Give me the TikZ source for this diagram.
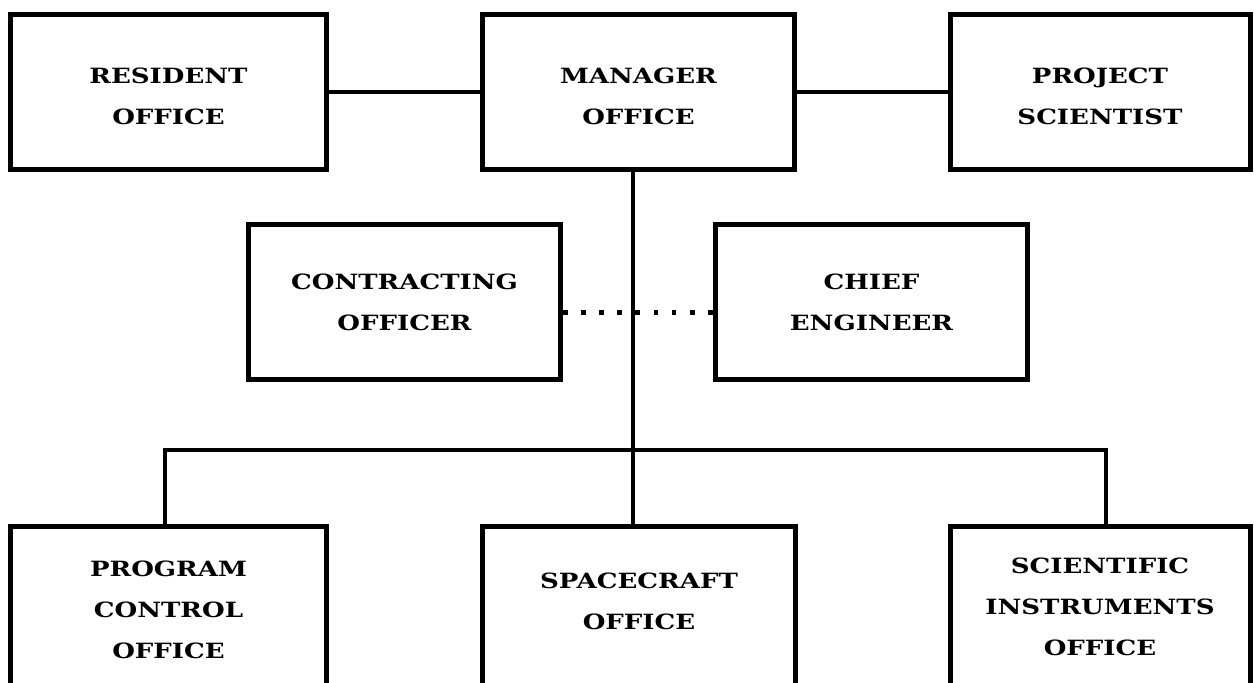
\documentclass[tikz,border=0pt]{standalone}
\usepackage{fontspec}
\setmainfont{DejaVu Serif}[FakeStretch=1.24]
\begin{document}
\begin{tikzpicture} [x=0.5pt,y=-0.5pt,
        box/.style={draw,line width=2.5pt,inner sep=0pt},
        caption/.style={align=center,inner sep=0pt,
                font=\fontsize{10.5}{20.5}\selectfont\bfseries},
        link/.style={line width=1.7pt},
        trunk/.style={line width=2pt},
        dotlink/.style={line width=2.5pt,dash pattern=on 2.4pt off 6.65pt}]
        \useasboundingbox (0,0) rectangle (1254,682) ;
        % top row
        \node[box,minimum width=158pt,minimum height=77.5pt] (resident) at (168.5,92) {} ;
        \node[box,minimum width=156pt,minimum height=77.5pt] (manager) at (638.5,92) {} ;
        \node[box,minimum width=150pt,minimum height=77.5pt] (project) at (1100,92) {} ;
        \node[caption] (residentT) at ([yshift=-2.25pt]resident.center) {RESIDENT\\OFFICE} ;
        \node[caption] (managerT) at ([yshift=-2.25pt]manager.center) {MANAGER\\OFFICE} ;
        \node[caption] (projectT) at ([yshift=-2.25pt]project.center) {PROJECT\\SCIENTIST} ;
        % staff
        \node[box,minimum width=156pt,minimum height=77.5pt] (contracting) at (404.5,302) {} ;
        \node[box,minimum width=156pt,minimum height=77.5pt] (chief) at (871.5,302) {} ;
        \node[caption] (contractingT) at (contracting.center) {CONTRACTING\\OFFICER} ;
        \node[caption] (chiefT) at (chief.center) {CHIEF\\ENGINEER} ;
        % bottom row, cut off by the page edge
        \node[box,minimum width=158pt,minimum height=83.5pt] (program) at (168.5,610) {} ;
        \node[box,minimum width=156.5pt,minimum height=83.5pt] (spacecraft) at (639,610) {} ;
        \node[box,minimum width=150pt,minimum height=83.5pt] (instruments) at (1100,610) {} ;
        \node[caption] (programT) at (program.center) {PROGRAM\\CONTROL\\OFFICE} ;
        \node[caption] (spacecraftT) at ([yshift=4.5pt]spacecraft.center) {SPACECRAFT\\OFFICE} ;
        \node[caption] (instrumentsT) at ([yshift=1.5pt]instruments.center) {SCIENTIFIC\\INSTRUMENTS\\OFFICE} ;
        \coordinate (stem) at (633,450) ;
        \coordinate (busL) at (165,450) ;
        \coordinate (busR) at (1106,450) ;
        \coordinate (dotrow) at (0,312) ;
        \draw[link] (resident.east) -- (manager.west) ;
        \draw[link] (manager.east) -- (project.west) ;
        \draw[trunk] (manager.south -| stem) -- (spacecraft.north -| stem) ;
        \draw[trunk] (program.north -| busL) -- (busL) -- (busR) -- (instruments.north -| busR) ;
        \draw[dotlink] (contracting.east |- dotrow) -- (chief.west |- dotrow) ;
\end{tikzpicture}
\end{document}
